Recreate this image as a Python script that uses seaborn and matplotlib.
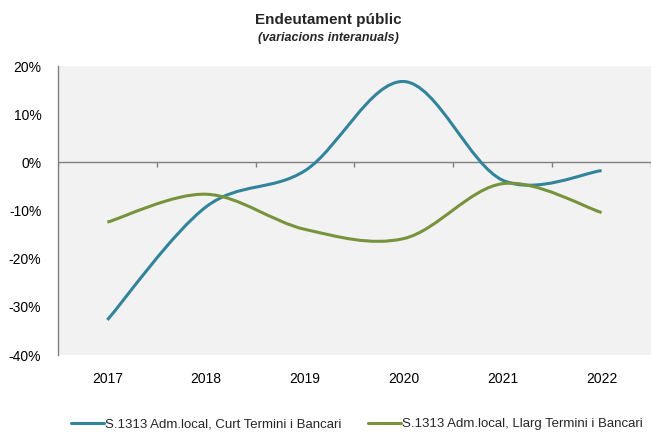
import numpy as np
import pandas as pd
import matplotlib
matplotlib.use("Agg")
import matplotlib.pyplot as plt
from matplotlib.path import Path
from matplotlib.patches import PathPatch
from matplotlib.lines import Line2D
import seaborn as sns

# Data (variacions interanuals, %)
years = ["2017", "2018", "2019", "2020", "2021", "2022"]
curt = [-32.7, -9.2, -1.7, 16.8, -3.7, -1.7]
llarg = [-12.4, -6.6, -13.9, -15.8, -4.4, -10.4]
series_names = ["S.1313 Adm.local, Curt Termini i Bancari",
                "S.1313 Adm.local, Llarg Termini i Bancari"]
colors = ["#31849B", "#77933C"]

df = pd.DataFrame({"year": years, series_names[0]: curt, series_names[1]: llarg})

sns.set_style("white")
plt.rcParams["font.family"] = ["Liberation Sans", "DejaVu Sans"]


def smooth_path(xs, ys):
    # Excel-like smoothed line: cubic bezier through points (Catmull-Rom tangents)
    pts = np.column_stack([xs, ys]).astype(float)
    ext = np.vstack([pts[0], pts, pts[-1]])
    verts = [pts[0]]
    codes = [Path.MOVETO]
    for i in range(1, len(ext) - 2):
        p0, p1, p2, p3 = ext[i - 1], ext[i], ext[i + 1], ext[i + 2]
        c1 = p1 + (p2 - p0) / 6
        c2 = p2 - (p3 - p1) / 6
        verts += [c1, c2, p2]
        codes += [Path.CURVE4] * 3
    return Path(verts, codes)


fig = plt.figure(figsize=(6.51, 4.32), dpi=100)
ax = fig.add_axes([0.089, 0.178, 0.911, 0.669])
ax.set_facecolor("#f2f2f2")

x = np.arange(len(years))
for name, c in zip(series_names, colors):
    patch = PathPatch(smooth_path(x, df[name].values), facecolor="none",
                      edgecolor=c, lw=2.2, capstyle="butt", zorder=3)
    ax.add_patch(patch)

ax.set_xlim(-0.5, len(years) - 0.5)
ax.set_ylim(-40, 20)
ax.set_yticks(np.arange(-40, 21, 10))
ax.set_yticklabels([f"{v}%" for v in range(-40, 21, 10)])
ax.set_xticks(x)
ax.set_xticklabels(years)
ax.tick_params(axis="both", length=0, labelsize=10, colors="black")
ax.tick_params(axis="y", pad=12)
ax.tick_params(axis="x", pad=12)

# zero line with category tick marks
ax.axhline(0, color="#808080", lw=1.0, zorder=2)
ax.vlines(np.arange(-0.5, len(years)), -0.9, 0, color="#808080", lw=1.0, zorder=2)

for s in ["top", "right", "bottom"]:
    ax.spines[s].set_visible(False)
ax.spines["left"].set_color("#808080")
ax.spines["left"].set_linewidth(1.0)

fig.text(0.505, 0.953, "Endeutament públic", ha="center", va="center",
         fontsize=11, fontweight="bold")
fig.text(0.505, 0.911, "(variacions interanuals)", ha="center", va="center",
         fontsize=9, fontweight="bold", style="italic")

handles = [Line2D([0], [0], color=c, lw=2.2) for c in colors]
fig.legend(handles, series_names, loc="center", bbox_to_anchor=(0.548, 0.018),
           ncol=2, frameon=False, fontsize=9.5, handlelength=2.5,
           handletextpad=0.1, columnspacing=2.0)

fig.savefig("out.png", dpi=100)
